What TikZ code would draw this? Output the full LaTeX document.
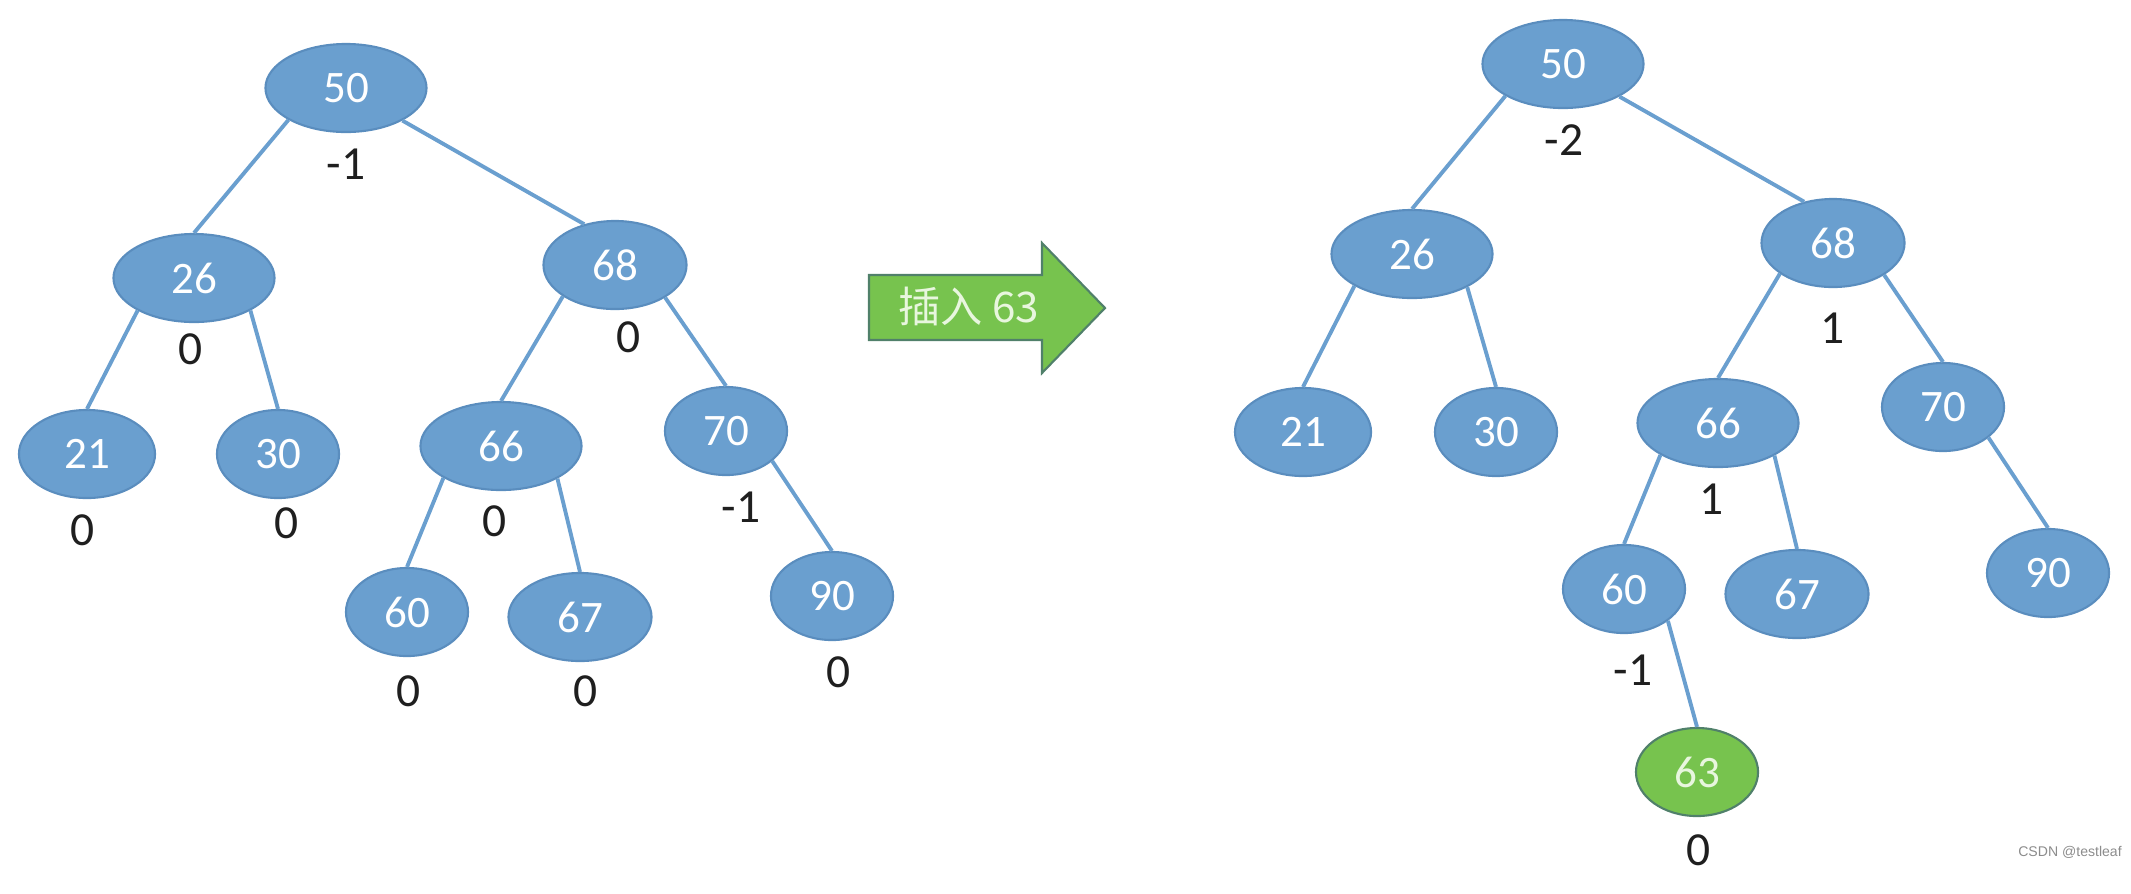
\documentclass[tikz,border=0pt]{standalone}
\usepackage{fontspec}
\usepackage{tikz}
\usetikzlibrary{shapes.geometric}
\setmainfont{Carlito}
\newfontfamily\cjkfont{Noto Sans CJK SC}
\newfontfamily\wmfont{Liberation Sans}
\definecolor{nodeblue}{HTML}{6A9FCF}
\definecolor{nodeline}{HTML}{5A8DBE}
\definecolor{insgreen}{HTML}{77C34E}
\definecolor{insline}{HTML}{50806A}
\definecolor{paletext}{HTML}{E8F6DE}

\begin{document}
\begin{tikzpicture}[x=0.01cm,y=-0.01cm,
    bst/.style={ellipse,draw=nodeline,line width=0.6pt,fill=nodeblue,text=white,
        inner sep=0pt,minimum height=0.88cm,font=\fontsize{12.8}{14}\selectfont},
    wide/.style={minimum width=1.61cm},
    mid/.style={minimum width=1.43cm},
    small/.style={minimum width=1.22cm},
    newkey/.style={bst,fill=insgreen,draw=insline,text=paletext},
    bf/.style={text=black!88,font=\fontsize{13.5}{15}\selectfont},
    link/.style={draw=nodeblue,line width=1.1pt}]
        \useasboundingbox (0,0) rectangle (2131,893);

        % before the insertion
        \node[bst,wide] (l50) at (346,88) {50};
        \node[bst,wide] (l26) at (194,278) {26};
        \node[bst,mid] (l68) at (615,265) {68};
        \node[bst,minimum width=1.36cm] (l21) at (87,454) {21};
        \node[bst,small] (l30) at (278,454) {30};
        \node[bst,wide] (l66) at (501,446) {66};
        \node[bst,small] (l70) at (726,431) {70};
        \node[bst,small] (l60) at (407,612) {60};
        \node[bst,mid] (l67) at (580,617) {67};
        \node[bst,small] (l90) at (832,596) {90};

        \draw[link] (l50.209)--(l26.north);
        \draw[link] (l50.330)--(l68.127);
        \draw[link] (l26.210)--(l21.north);
        \draw[link] (l26.330)--(l30.north);
        \draw[link] (l68.211)--(l66.north);
        \draw[link] (l68.327)--(l70.north);
        \draw[link] (l66.209)--(l60.north);
        \draw[link] (l66.330)--(l67.north);
        \draw[link] (l70.327)--(l90.north);

        \node[bf] (bl50) at (346,164) {-1};
        \node[bf] (bl26) at (191,349) {0};
        \node[bf] (bl68) at (629,337) {0};
        \node[bf] (bl21) at (83,530) {0};
        \node[bf] (bl30) at (287,523) {0};
        \node[bf] (bl66) at (495,521) {0};
        \node[bf] (bl70) at (741,507) {-1};
        \node[bf] (bl60) at (409,691) {0};
        \node[bf] (bl67) at (586,691) {0};
        \node[bf] (bl90) at (839,672) {0};

        % the arrow
        \draw[fill=insgreen,draw=insline,line width=0.6pt] (869,275)--(1042,275)--(1042,243)--(1105,308)
        --(1042,373)--(1042,340)--(869,340)--cycle;
        \node[text=paletext,font=\fontsize{12}{14}\cjkfont] (ins) at (969,306) {插入 63};

        % after the insertion
        \node[bst,wide] (r50) at (1563,64) {50};
        \node[bst,wide] (r26) at (1412,254) {26};
        \node[bst,mid] (r68) at (1833,243) {68};
        \node[bst,minimum width=1.36cm] (r21) at (1303,432) {21};
        \node[bst,small] (r30) at (1496,432) {30};
        \node[bst,wide] (r66) at (1718,423) {66};
        \node[bst,small] (r70) at (1943,407) {70};
        \node[bst,small] (r60) at (1624,589) {60};
        \node[bst,mid] (r67) at (1797,594) {67};
        \node[bst,small] (r90) at (2048,573) {90};
        \node[newkey,small] (r63) at (1697,772) {63};

        \draw[link] (r50.209)--(r26.north);
        \draw[link] (r50.330)--(r68.125);
        \draw[link] (r26.209)--(r21.north);
        \draw[link] (r26.329)--(r30.north);
        \draw[link] (r68.210)--(r66.north);
        \draw[link] (r68.328)--(r70.north);
        \draw[link] (r66.209)--(r60.north);
        \draw[link] (r66.330)--(r67.north);
        \draw[link] (r70.326)--(r90.north);
        \draw[link] (r60.324)--(r63.north);

        \node[bf] (br50) at (1564,140) {-2};
        \node[bf] (br68) at (1832,328) {1};
        \node[bf] (br66) at (1711,499) {1};
        \node[bf] (br60) at (1633,670) {-1};
        \node[bf] (br63) at (1698,850) {0};

        \node[text=black!45,font=\fontsize{4}{5}\wmfont] (csdn) at (2070,852) {CSDN @testleaf};

    \end{tikzpicture}
\end{document}
